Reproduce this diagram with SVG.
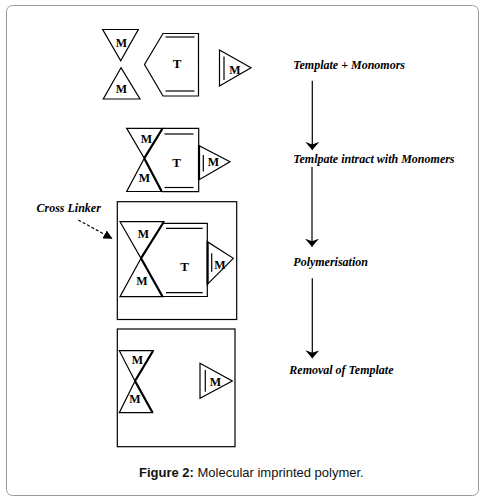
<svg xmlns="http://www.w3.org/2000/svg" width="486" height="502" viewBox="0 0 486 502">
<style>
.ln{fill:none;stroke:#000;stroke-width:1.2;stroke-linejoin:miter}
.bd{fill:none;stroke:#000;stroke-width:2.2;stroke-linecap:butt}
.m{font-family:"Liberation Serif",serif;font-weight:bold;font-size:12px;fill:#000;text-anchor:middle}
.t{font-family:"Liberation Serif",serif;font-weight:bold;font-size:13px;fill:#000;text-anchor:middle}
.lb{font-family:"Liberation Serif",serif;font-weight:bold;font-style:italic;font-size:12px;fill:#000}
.cap{font-family:"Liberation Sans",Arial,sans-serif;font-size:13px;fill:#111}
</style>
<defs>
<marker id="ah" viewBox="0 0 8 14" refX="8" refY="7" markerWidth="8" markerHeight="14" markerUnits="userSpaceOnUse" orient="auto">
<path d="M0,0 L8,7 L0,14 L2.5,7 Z" fill="#000"/>
</marker>
<marker id="ahd" viewBox="0 0 10 10" refX="9" refY="5" markerWidth="9" markerHeight="9" markerUnits="userSpaceOnUse" orient="auto">
<path d="M0,0 L10,5 L0,10 Z" fill="#000"/>
</marker>
</defs>
<rect x="6.5" y="5.5" width="472" height="490" rx="6" ry="6" fill="#fff" stroke="#9a9a9a" stroke-width="1"/>

<g id="stage1">
<polygon class="ln" points="102.7,29.5 138.3,29.5 120.7,60.7"/>
<text class="m" x="121.5" y="47">M</text>
<polygon class="ln" points="121,67.7 103.3,99 140,99"/>
<text class="m" x="121.5" y="93">M</text>
<polygon class="ln" points="163,33.5 198.5,33.5 198.5,96 163,96 144.5,64.5"/>
<line class="ln" x1="165.5" y1="37" x2="194.5" y2="37"/>
<line class="ln" x1="165.5" y1="91" x2="194.5" y2="91"/>
<text class="t" x="177" y="68">T</text>
<polygon class="ln" points="219.5,50 219.5,86 251,67.7"/>
<line class="ln" x1="224" y1="56.5" x2="224" y2="80"/>
<text class="m" x="235" y="73.5">M</text>
</g>

<g id="stage2">
<polygon class="ln" points="126.7,128.3 162.7,128.3 144.3,158.3"/>
<line class="bd" x1="162.2" y1="129" x2="144.5" y2="157.8"/>
<text class="m" x="146.5" y="142.5">M</text>
<polygon class="ln" points="144.3,158.3 126.7,191.5 161.7,191.5"/>
<line class="bd" x1="144.5" y1="158.8" x2="161.5" y2="191"/>
<text class="m" x="144.5" y="182">M</text>
<polyline class="ln" points="162.7,128.3 198.7,128.3 198.7,145.5"/>
<polyline class="ln" points="198.7,180 198.7,191.7 161.7,191.7"/>
<line class="ln" x1="164.5" y1="134" x2="193.5" y2="134"/>
<line class="ln" x1="164.5" y1="187.5" x2="193.5" y2="187.5"/>
<text class="t" x="176.5" y="167">T</text>
<polygon class="ln" points="198.7,145.5 198.7,180 230,161.7"/>
<line class="bd" x1="199" y1="145.5" x2="199" y2="180"/>
<line class="ln" x1="203.3" y1="155" x2="203.3" y2="171.5"/>
<text class="m" x="213.5" y="166">M</text>
</g>

<g id="stage3">
<rect class="ln" x="117.3" y="201.7" width="119.4" height="117.8"/>
<polygon class="ln" points="120,221.7 164,221.7 141,258.3"/>
<line class="bd" x1="163.4" y1="222.5" x2="141.3" y2="257.8"/>
<text class="m" x="143.5" y="237.5">M</text>
<polygon class="ln" points="141,258.3 120,296.7 162.7,296.7"/>
<line class="bd" x1="141.3" y1="258.8" x2="162.3" y2="296.2"/>
<text class="m" x="142" y="284.5">M</text>
<polyline class="ln" points="163.5,223.3 207.3,223.3 207.3,241.7"/>
<polyline class="ln" points="207.3,284.3 207.3,296.5 162.7,296.5"/>
<line class="ln" x1="166" y1="228.3" x2="202.7" y2="228.3"/>
<line class="ln" x1="166" y1="292.7" x2="202.7" y2="292.7"/>
<text class="t" x="184.5" y="271">T</text>
<polygon class="ln" points="207.3,241.7 207.3,284.3 233.3,258.3"/>
<line class="bd" x1="207.6" y1="241.7" x2="207.6" y2="284.3"/>
<line class="ln" x1="211.7" y1="253.3" x2="211.7" y2="271.7"/>
<text class="m" x="220" y="269">M</text>
</g>

<g id="stage4">
<rect class="ln" x="117.3" y="329" width="117.7" height="117.7"/>
<polygon class="ln" points="119.3,350.7 153.3,350.7 135,381"/>
<line class="bd" x1="152.8" y1="351.3" x2="135.3" y2="380.5"/>
<text class="m" x="137.3" y="363.5">M</text>
<polygon class="ln" points="135,381 119.3,412.7 152.7,412.7"/>
<line class="bd" x1="135.3" y1="381.5" x2="152.3" y2="412.2"/>
<text class="m" x="135" y="402.5">M</text>
<polygon class="ln" points="200,363.3 200,398.3 232.3,381"/>
<line class="ln" x1="205.3" y1="370" x2="205.3" y2="391.7"/>
<text class="m" x="215.5" y="385.5">M</text>
</g>

<g id="labels">
<text class="lb" x="293.3" y="69">Template + Monomors</text>
<text class="lb" x="293.3" y="162.5">Temlpate intract with Monomers</text>
<text class="lb" x="293.3" y="266">Polymerisation</text>
<text class="lb" x="289.3" y="374">Removal of Template</text>
<text class="lb" x="36.5" y="212">Cross Linker</text>
</g>

<g id="connectors">
<line class="ln" x1="312.3" y1="80.7" x2="312.3" y2="150" marker-end="url(#ah)"/>
<line class="ln" x1="312" y1="167" x2="312" y2="246.7" marker-end="url(#ah)"/>
<line class="ln" x1="312.3" y1="278.3" x2="312.3" y2="358.3" marker-end="url(#ah)"/>
<line class="ln" x1="78.3" y1="220" x2="111.7" y2="238.3" stroke-dasharray="3,2" marker-end="url(#ahd)"/>
</g>

<text class="cap" x="139" y="476.5"><tspan font-weight="bold">Figure 2:</tspan> Molecular imprinted polymer.</text>
</svg>
